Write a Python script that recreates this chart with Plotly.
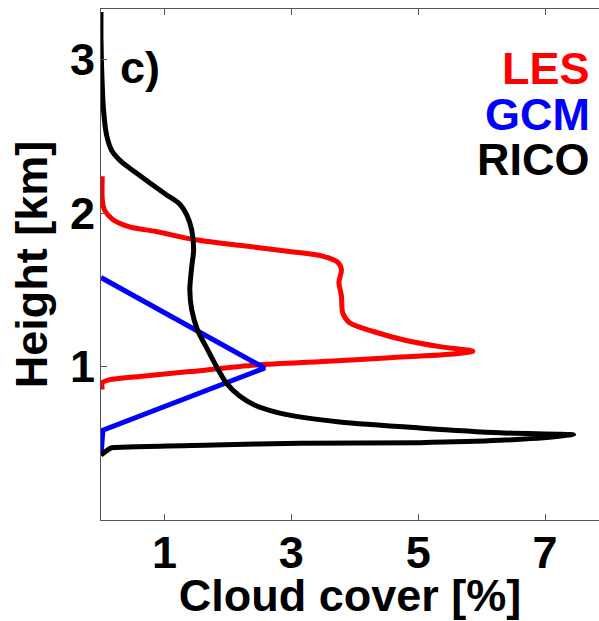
import plotly.graph_objects as go

# Cloud-cover profiles: cloud fraction [%] versus height [km]
les_cover = [0.02, 0.02, 0.055, 0.18, 0.45, 0.87, 1.44, 2.18, 2.97, 3.49, 3.73, 3.79,
             3.75, 3.79, 3.81, 3.92, 4.28, 4.81, 5.34, 5.86, 5.60, 4.55, 3.49, 2.45,
             1.40, 0.61, 0.13, 0.02, 0.02]
les_height = [2.24, 2.09, 2.02, 1.96, 1.91, 1.88, 1.83, 1.79, 1.75, 1.72, 1.68, 1.63,
              1.55, 1.46, 1.35, 1.285, 1.23, 1.17, 1.13, 1.10, 1.083, 1.057, 1.033, 1.01,
              0.967, 0.935, 0.913, 0.894, 0.85]

gcm_cover = [0.0, 2.58, 0.03, 0.0]
gcm_height = [1.58, 0.99, 0.585, 0.42]

rico_cover = [0.0, 0.0, 0.016, 0.04, 0.087, 0.166, 0.32, 0.53, 0.76, 1.03, 1.24, 1.35,
              1.43, 1.46, 1.43, 1.40, 1.43, 1.52, 1.68, 1.82, 1.98, 2.18, 2.42, 2.74,
              3.13, 3.76, 5.02, 6.29, 7.45, 6.29, 5.02, 3.14, 1.78, 0.21, 0.16, 0.0]
rico_height = [3.31, 3.13, 2.87, 2.67, 2.51, 2.41, 2.335, 2.27, 2.20, 2.12, 2.06, 1.99,
               1.89, 1.76, 1.65, 1.50, 1.37, 1.24, 1.11, 1.00, 0.89, 0.81, 0.75, 0.705,
               0.672, 0.639, 0.600, 0.568, 0.554, 0.519, 0.504, 0.500, 0.489, 0.473, 0.47,
               0.424]

x_ticks = [1, 3, 5, 7]
y_ticks = [1, 2, 3]

FONT = "Liberation Sans, Arial, Helvetica, sans-serif"
BIG = 45

series = [
    ("LES", les_cover, les_height, "#ff0000", "spline"),
    ("GCM", gcm_cover, gcm_height, "#0000ff", "linear"),
    ("RICO", rico_cover, rico_height, "#000000", "spline"),
]

fig = go.Figure()
for name, xs, ys, color, shape in series:
    fig.add_trace(go.Scatter(x=xs, y=ys, mode="lines", name=name,
                             line=dict(color=color, width=5, shape=shape,
                                       smoothing=0.8),
                             showlegend=False))

# Coloured series names stacked in the upper-right corner
label_y = {"LES": 2.94, "GCM": 2.64, "RICO": 2.35}
for name, _, _, color, _ in series:
    fig.add_annotation(x=7.74, y=label_y[name], xref="x", yref="y",
                       text=name, showarrow=False, xanchor="right", yanchor="middle",
                       font=dict(family=FONT, size=BIG, color=color, weight="bold"))

# Panel letter
fig.add_annotation(x=0.27, y=2.95, xref="x", yref="y", text="c)", showarrow=False,
                   xanchor="left", yanchor="middle",
                   font=dict(family=FONT, size=BIG, color="black", weight="bold"))

axis_common = dict(
    showline=True, linecolor="#555555", linewidth=1,
    ticks="inside", ticklen=6, tickwidth=1, tickcolor="#555555",
    showgrid=False, zeroline=False,
    tickfont=dict(family=FONT, size=BIG, color="black", weight="bold"),
)

fig.update_layout(
    width=599, height=621,
    margin=dict(l=101, r=0, t=9, b=101),
    paper_bgcolor="white", plot_bgcolor="white",
    xaxis=dict(range=[0, 7.85], tickvals=x_ticks, mirror="ticks",
               ticklabelstandoff=-7,
               title=dict(text="Cloud cover [%]", standoff=10,
                          font=dict(family=FONT, size=BIG, color="black", weight="bold")),
               **axis_common),
    yaxis=dict(range=[0, 3.33], tickvals=y_ticks, mirror=False,
               ticklabelstandoff=-4,
               title=dict(text="Height [km]", standoff=8,
                          font=dict(family=FONT, size=BIG, color="black", weight="bold")),
               **axis_common),
)

fig.write_html("out.html")
